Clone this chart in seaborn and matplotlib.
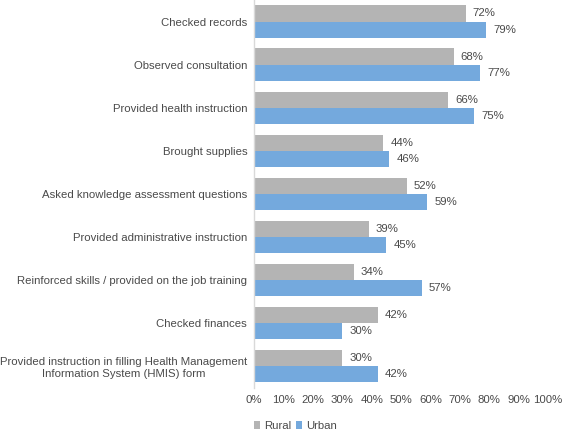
import matplotlib
matplotlib.use('Agg')
import matplotlib.pyplot as plt
import seaborn as sns
import pandas as pd

categories = [
    'Checked records',
    'Observed consultation',
    'Provided health instruction',
    'Brought supplies',
    'Asked knowledge assessment questions',
    'Provided administrative instruction',
    'Reinforced skills / provided on the job training',
    'Checked finances',
    'Provided instruction in filling Health Management\nInformation System (HMIS) form',
]
rural = [72, 68, 66, 44, 52, 39, 34, 42, 30]
urban = [79, 77, 75, 46, 59, 45, 57, 30, 42]
series = ['Rural', 'Urban']
colors = ['#b4b4b4', '#74a9dd']

df = pd.DataFrame({
    'category': categories * 2,
    'value': rural + urban,
    'group': ['Rural'] * len(rural) + ['Urban'] * len(urban),
})

sns.set_style('white')
plt.rcParams['font.family'] = ['Liberation Sans', 'DejaVu Sans']
text_col = '#4a4a4a'
fs = 8.2

fig = plt.figure(figsize=(5.66, 4.30), dpi=100)
ax = fig.add_axes([0.449, 0.098, 0.519, 0.902])

sns.barplot(data=df, x='value', y='category', hue='group', hue_order=series,
            palette=colors, orient='h', width=0.75, ax=ax, legend=True,
            saturation=1, linewidth=0)

for cont in ax.containers:
    ax.bar_label(cont, labels=[f'{int(v)}%' for v in cont.datavalues],
                 padding=5, fontsize=fs, color=text_col)

ax.set_xlim(0, 100)
ax.set_ylim(8.5, -0.5)
ax.set_xticks(range(0, 101, 10))
ax.set_xticklabels([f'{t}%' for t in range(0, 101, 10)])
ax.tick_params(axis='both', length=0, labelsize=fs, colors=text_col)
ax.tick_params(axis='x', pad=5)
ax.tick_params(axis='y', pad=5)
for lab in ax.get_yticklabels():
    lab.set_horizontalalignment('right')
    lab.set_multialignment('center')
ax.set_xlabel('')
ax.set_ylabel('')
for s in ['top', 'right', 'bottom']:
    ax.spines[s].set_visible(False)
ax.spines['left'].set_color('#d9d9d9')
ax.spines['left'].set_linewidth(1)

handles, labels = ax.get_legend_handles_labels()
ax.legend_.remove()
fig.legend(handles, labels, loc='lower left', bbox_to_anchor=(0.43, -0.026),
           ncol=2, frameon=False, fontsize=fs, handlelength=0.6, handleheight=0.6,
           handletextpad=0.3, columnspacing=0.4, labelcolor=text_col)

fig.savefig('out.png', dpi=100)
